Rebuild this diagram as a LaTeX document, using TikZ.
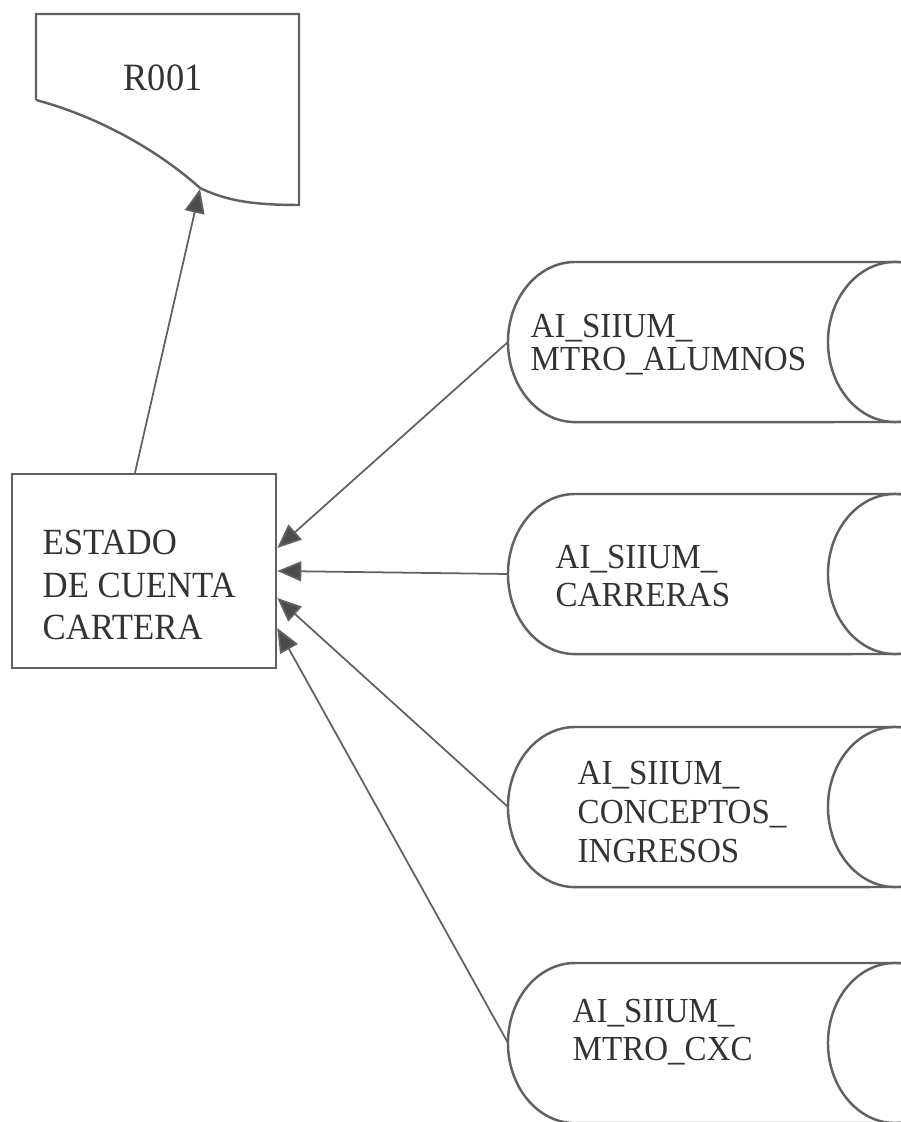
\documentclass[tikz,border=0pt]{standalone}
\usepackage{fontspec}
\setmainfont{Liberation Serif}[FakeStretch=0.94]
\usetikzlibrary{arrows.meta,calc}
\definecolor{LineClr}{rgb}{0.38,0.38,0.38}
\definecolor{TipClr}{rgb}{0.3,0.3,0.3}

\begin{document}
\begin{tikzpicture}[x=0.01cm,y=-0.01cm,
  txt/.style={align=left,anchor=west,inner sep=0pt,text=black!80,font=\fontsize{10}{11}\selectfont},
  flow/.style={draw=LineClr,line width=0.5pt,-{Triangle[length=0.24cm,width=0.2cm,fill=TipClr]}},
  tank/.style={draw=LineClr,line width=0.7pt}]
\useasboundingbox (0,0) rectangle (901,1122);

% report R001
\draw[tank] (36,100) -- (36,14) -- (299,14) -- (299,205)
  .. controls (250,205) and (225,200) .. (200,188)
  .. controls (160,152) and (100,117) .. (36,100);
\coordinate (R1) at (200,189);
\node[text=black!80] (r001) at (163,78) {\fontsize{11}{12}\selectfont R001};

% process
\node[draw=LineClr,line width=0.7pt,minimum width=2.64cm,minimum height=1.94cm,inner sep=0pt] (estado) at (144,571) {};
\node[txt,font=\fontsize{10.5}{12.2}\selectfont] (estadotxt) at (42,585) {ESTADO\\DE CUENTA\\CARTERA};

% tables
\foreach \cy/\nm in {342/alumnos,574/carreras,807/conceptos,1043/cxc}{
  \draw[tank] (905,\cy-80) -- (575,\cy-80)
    arc[start angle=90,end angle=270,x radius=0.67cm,y radius=0.8cm] -- (905,\cy+80);
  \draw[tank] (895,\cy) ellipse [x radius=0.67cm,y radius=0.8cm];
  \coordinate (\nm) at (508,\cy);
}
\node[txt,font=\fontsize{10}{9.4}\selectfont] (alumnostxt) at (530,345) {AI\_SIIUM\_\\MTRO\_ALUMNOS};
\node[txt,font=\fontsize{10}{10.6}\selectfont] (carrerastxt) at (555,576) {AI\_SIIUM\_\\CARRERAS};
\node[txt,font=\fontsize{10}{11}\selectfont] (conceptostxt) at (577,812) {AI\_SIIUM\_\\CONCEPTOS\_\\INGRESOS};
\node[txt,font=\fontsize{10}{10.8}\selectfont] (cxctxt) at (572,1032) {AI\_SIIUM\_\\MTRO\_CXC};

% flows
\draw[flow] ([xshift=-0.09cm]estado.north) -- (R1);
\draw[flow] (alumnos) -- ([yshift=0.23cm]estado.east);
\draw[flow] (carreras) -- (estado.east);
\draw[flow] (conceptos) -- ([yshift=-0.27cm]estado.east);
\draw[flow] (cxc) -- ([yshift=-0.57cm]estado.east);

\end{tikzpicture}
\end{document}
